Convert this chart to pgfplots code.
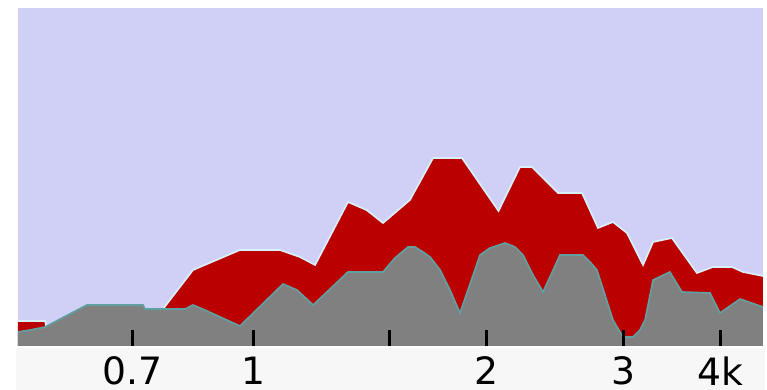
\documentclass[border=0pt]{standalone}
\usepackage{pgfplots}
\pgfplotsset{compat=1.18}
\usepackage{fontspec}
\setmainfont{DejaVu Sans}
\definecolor{bgc}{RGB}{208,208,247}
\definecolor{redc}{RGB}{187,0,0}
\definecolor{grayc}{RGB}{128,128,128}
\definecolor{stripc}{RGB}{247,247,247}
\definecolor{redhalo}{RGB}{215,240,250}
\definecolor{grayedge}{RGB}{95,160,160}
\begin{document}
\begin{tikzpicture}
\path[use as bounding box] (-5.4pt,-13.2pt) rectangle (224.7pt,103.8pt);
\fill[stripc] (-0.6pt,-13.2pt) rectangle (224.1pt,-0.6pt);
\begin{axis}[
  at={(0,0)}, anchor=south west, scale only axis,
  width=223.5pt, height=101.4pt,
  xmode=log, xmin=0.4983, xmax=4.533, ymin=0, ymax=338,
  axis background/.style={fill=bgc},
  axis line style={draw=none},
  ytick=\empty,
  xtick={0.7,1,1.5,2,3,4}, xticklabels={0.7,1,,2,3,4k},
  xtick pos=left, minor xtick={},
  tick align=inside, major tick length=4.8pt,
  tick style={black, line width=0.9pt},
  xticklabel style={font=\fontsize{11.3}{13}\selectfont, yshift=0.3pt},
  axis on top,
]
\addplot[fill=redc, draw=none] coordinates {
(0.4983,25) (0.540,25) (0.542,19) (0.611,41) (0.722,41) (0.726,37) (0.766,37)
(0.837,76) (0.962,96) (1.083,96) (1.149,89) (1.202,81) (1.325,144) (1.400,136)
(1.470,123) (1.592,146) (1.705,188) (1.858,188) (2.070,135) (2.206,179) (2.286,179)
(2.470,153) (2.651,153) (2.780,118) (2.906,124) (3.029,113) (3.177,81) (3.273,104)
(3.461,108) (3.727,73) (3.909,79) (4.135,79) (4.272,74) (4.533,70)
} \closedcycle;
\addplot[draw=redhalo, line width=0.5pt] coordinates {
(0.4983,25) (0.540,25) (0.542,19) (0.611,41) (0.722,41) (0.726,37) (0.766,37)
(0.837,76) (0.962,96) (1.083,96) (1.149,89) (1.202,81) (1.325,144) (1.400,136)
(1.470,123) (1.592,146) (1.705,188) (1.858,188) (2.070,135) (2.206,179) (2.286,179)
(2.470,153) (2.651,153) (2.780,118) (2.906,124) (3.029,113) (3.177,81) (3.273,104)
(3.461,108) (3.727,73) (3.909,79) (4.135,79) (4.272,74) (4.533,70)
};
\addplot[fill=grayc, draw=none] coordinates {
(0.4983,14) (0.5164,16) (0.540,19) (0.611,41) (0.722,41) (0.726,37) (0.766,37)
(0.818,37) (0.837,41) (0.867,36) (0.962,20) (1.093,62) (1.139,56) (1.195,41)
(1.325,74) (1.470,74) (1.523,88) (1.583,99) (1.616,99) (1.655,94) (1.690,89)
(1.741,76) (1.793,56) (1.847,33) (1.960,91) (2.018,98)
(2.110,103) (2.174,99) (2.226,91) (2.293,71) (2.362,54) (2.484,91) (2.659,91)
(2.715,84) (2.771,76) (2.838,51) (2.906,26)
(2.993,9) (3.084,9) (3.148,16) (3.196,26) (3.273,66) (3.440,74) (3.565,54) (3.874,53)
(3.991,33) (4.235,47) (4.533,39)
} \closedcycle;
\addplot[draw=grayedge, line width=0.5pt] coordinates {
(0.4983,14) (0.5164,16) (0.540,19) (0.611,41) (0.722,41) (0.726,37) (0.766,37)
(0.818,37) (0.837,41) (0.867,36) (0.962,20) (1.093,62) (1.139,56) (1.195,41)
(1.325,74) (1.470,74) (1.523,88) (1.583,99) (1.616,99) (1.655,94) (1.690,89)
(1.741,76) (1.793,56) (1.847,33) (1.960,91) (2.018,98)
(2.110,103) (2.174,99) (2.226,91) (2.293,71) (2.362,54) (2.484,91) (2.659,91)
(2.715,84) (2.771,76) (2.838,51) (2.906,26)
(2.993,9) (3.084,9) (3.148,16) (3.196,26) (3.273,66) (3.440,74) (3.565,54) (3.874,53)
(3.991,33) (4.235,47) (4.533,39)
};
\end{axis}
\end{tikzpicture}
\end{document}
